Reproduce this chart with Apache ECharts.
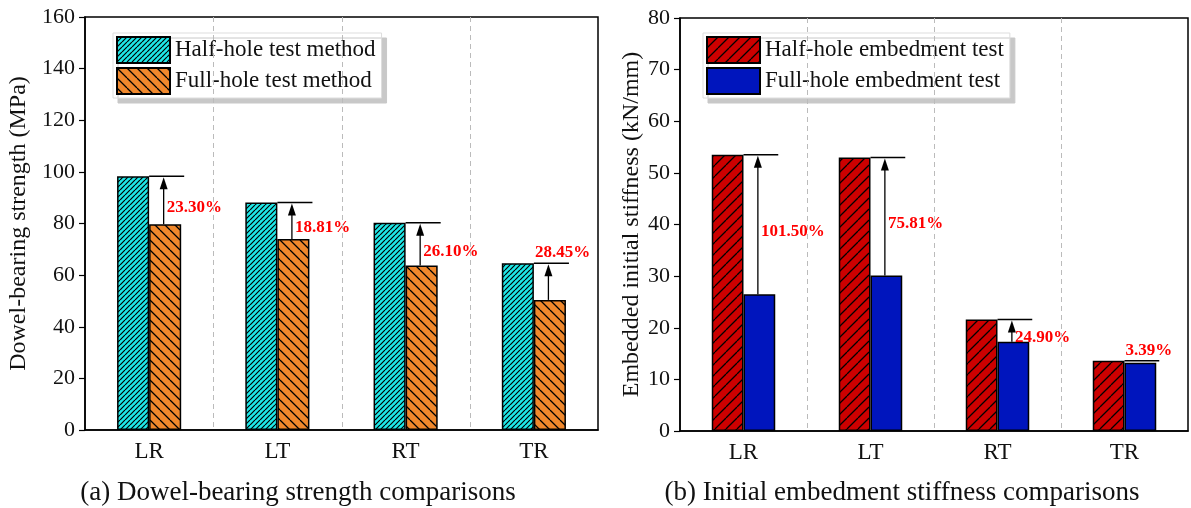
<!DOCTYPE html>
<html><head><meta charset="utf-8">
<script src="https://cdn.jsdelivr.net/npm/echarts@6/dist/echarts.min.js"></script>
<style>html,body{margin:0;padding:0;background:#fff}#c{width:1191px;height:508px}</style>
</head><body><div id="c"></div>
<script>
// ---------- data ----------
const categories = ['LR', 'LT', 'RT', 'TR'];
const strengthHalf = [98.3, 88.1, 80.3, 64.6];
const strengthFull = [79.7, 74.0, 63.7, 50.4];
const strengthPct = ['23.30%', '18.81%', '26.10%', '28.45%'];
const stiffHalf = [53.5, 53.0, 21.6, 13.6];
const stiffFull = [26.5, 30.1, 17.3, 13.2];
const stiffPct = ['101.50%', '75.81%', '24.90%', '3.39%'];
const leftAxis = { min: 0, max: 160, interval: 20 };
const rightAxis = { min: 0, max: 80, interval: 10 };
const seriesNames = ['Half-hole test method', 'Full-hole test method', 'Half-hole embedment test', 'Full-hole embedment test'];
const captions = ['(a) Dowel-bearing strength comparisons', '(b) Initial embedment stiffness comparisons'];
const yNames = ['Dowel-bearing strength (MPa)', 'Embedded initial stiffness (kN/mm)'];

// ---------- style ----------
const labelAbove = [false, false, false, true];
const FONT = '"Liberation Serif", "Times New Roman", serif';

function hatch(bg, s, dir, lw) {
  const c = document.createElement('canvas');
  c.width = s; c.height = s;
  const ctx = c.getContext('2d');
  ctx.fillStyle = bg; ctx.fillRect(0, 0, s, s);
  ctx.strokeStyle = '#000'; ctx.lineWidth = lw;
  ctx.beginPath();
  for (let k = -1; k <= 1; k++) {
    if (dir === '/') { ctx.moveTo(k * s, s); ctx.lineTo(k * s + s, 0); }
    else { ctx.moveTo(k * s, 0); ctx.lineTo(k * s + s, s); }
  }
  ctx.stroke();
  return { image: c, repeat: 'repeat' };
}
const cyanPat = hatch('#1ee8e8', 5, '/', 1.2);
const orangePat = hatch('#f0882c', 10, '\\', 1.3);
const redPat = hatch('#cc0000', 11, '/', 1.3);
const blueSolid = '#0015bd';

function makeAnnot(pcts) {
  return function (params, api) {
    const i = params.dataIndex;
    const pH = api.coord([api.value(0), api.value(1)]);
    const pF = api.coord([api.value(0), api.value(2)]);
    const band = api.size([1, 0])[0];
    const bw = band * 0.25;
    const cx = pH[0], yH = pH[1], yF = pF[1];
    const ax = cx + bw / 2 - 1.5;
    const children = [{
      type: 'line', shape: { x1: cx, y1: yH, x2: cx + bw + 3, y2: yH },
      style: { stroke: '#000', lineWidth: 1.5 }
    }];
    if (yF - yH > 12) {
      children.push({
        type: 'line', shape: { x1: ax, y1: yF, x2: ax, y2: yH + 10 },
        style: { stroke: '#000', lineWidth: 1.3 }
      });
      children.push({
        type: 'polygon', shape: { points: [[ax, yH + 1], [ax - 4, yH + 13], [ax + 4, yH + 13]] },
        style: { fill: '#000' }
      });
    }
    const above = labelAbove[i];
    children.push({
      type: 'text',
      style: {
        text: pcts[i],
        x: above ? cx + 1 : ax + 3,
        y: above ? yH - 2 : (yH + yF) / 2 + 7,
        fill: '#ff0000',
        font: 'bold 17px ' + FONT,
        align: 'left', verticalAlign: above ? 'bottom' : 'middle',
        textAlign: 'left', textVerticalAlign: above ? 'bottom' : 'middle'
      }
    });
    return { type: 'group', children: children };
  };
}

function makeSeparators(ax) {
  return function (params, api) {
    const band = api.size([1, 0])[0];
    const x = api.coord([api.value(0), ax.min])[0] - band / 2;
    const yb = api.coord([0, ax.min])[1];
    const yt = api.coord([0, ax.max])[1];
    return {
      type: 'line', shape: { x1: Math.round(x) + 0.5, y1: yt, x2: Math.round(x) + 0.5, y2: yb },
      style: { stroke: '#bbb', lineWidth: 1, lineDash: [5, 4] }
    };
  };
}

function xAxisCfg(gi) {
  return {
    type: 'category', gridIndex: gi, data: categories,
    axisLine: { show: true, lineStyle: { color: '#000', width: 1.5 } },
    axisTick: { show: false },
    axisLabel: { color: '#111', fontFamily: FONT, fontSize: 23, margin: 10 },
    splitLine: { show: false }
  };
}
function yAxisCfg(gi, ax, name, gap) {
  return {
    type: 'value', gridIndex: gi, min: ax.min, max: ax.max, interval: ax.interval,
    name: name, nameLocation: 'middle', nameGap: gap, nameRotate: 90,
    nameTextStyle: { color: '#111', fontFamily: FONT, fontSize: 24 },
    axisLine: { show: true, lineStyle: { color: '#000', width: 1.5 } },
    axisTick: { show: true, inside: false, length: 6, lineStyle: { color: '#000', width: 1.2 } },
    axisLabel: { color: '#111', fontFamily: FONT, fontSize: 22, margin: 10 },
    splitLine: { show: false }
  };
}
function legendCfg(left, names) {
  return {
    orient: 'vertical', left: left, top: 33, data: names, z: 1,
    icon: 'rect',
    itemWidth: 53, itemHeight: 26, itemGap: 3,
    padding: [3, 6, 3, 3],
    backgroundColor: '#fff', borderColor: '#ddd', borderWidth: 1,
    shadowColor: '#c8c8c8', shadowBlur: 0, shadowOffsetX: 5, shadowOffsetY: 5,
    textStyle: { color: '#111', fontFamily: FONT, fontSize: 23 },
    selectedMode: false
  };
}
function barS(name, data, gi, color) {
  return {
    name: name, type: 'bar', xAxisIndex: gi, yAxisIndex: gi, data: data,
    barWidth: '25%', barGap: '0%',
    itemStyle: { color: color, borderColor: '#000', borderWidth: 1.5 },
    emphasis: { disabled: true }, animation: false
  };
}

const sepData = categories.slice(1).map((c, i) => [i + 1]);

const chart = echarts.init(document.getElementById('c'), null, { renderer: 'canvas' });
chart.setOption({
  animation: false,
  backgroundColor: '#fff',
  grid: [
    { left: 85, top: 17, width: 513, height: 413, show: true, borderColor: '#000', borderWidth: 1.5, backgroundColor: 'transparent' },
    { left: 680, top: 18, width: 508, height: 413, show: true, borderColor: '#000', borderWidth: 1.5, backgroundColor: 'transparent' }
  ],
  xAxis: [xAxisCfg(0), xAxisCfg(1)],
  yAxis: [yAxisCfg(0, leftAxis, yNames[0], 54), yAxisCfg(1, rightAxis, yNames[1], 36)],
  legend: [legendCfg(113, [seriesNames[0], seriesNames[1]]), legendCfg(703, [seriesNames[2], seriesNames[3]])],
  graphic: [
    { type: 'text', x: 298, y: 493, style: { text: captions[0], font: '27px ' + FONT, fill: '#111', textAlign: 'center', textVerticalAlign: 'middle', align: 'center', verticalAlign: 'middle' } },
    { type: 'text', x: 902, y: 493, style: { text: captions[1], font: '27px ' + FONT, fill: '#111', textAlign: 'center', textVerticalAlign: 'middle', align: 'center', verticalAlign: 'middle' } }
  ],
  series: [
    barS(seriesNames[0], strengthHalf, 0, cyanPat),
    barS(seriesNames[1], strengthFull, 0, orangePat),
    barS(seriesNames[2], stiffHalf, 1, redPat),
    barS(seriesNames[3], stiffFull, 1, blueSolid),
    {
      type: 'custom', xAxisIndex: 0, yAxisIndex: 0, z: 5, clip: false,
      data: categories.map((c, i) => [i, strengthHalf[i], strengthFull[i]]),
      renderItem: makeAnnot(strengthPct), silent: true
    },
    {
      type: 'custom', xAxisIndex: 1, yAxisIndex: 1, z: 5, clip: false,
      data: categories.map((c, i) => [i, stiffHalf[i], stiffFull[i]]),
      renderItem: makeAnnot(stiffPct), silent: true
    },
    {
      type: 'custom', xAxisIndex: 0, yAxisIndex: 0, z: 6, clip: false, silent: true,
      data: sepData, renderItem: makeSeparators(leftAxis)
    },
    {
      type: 'custom', xAxisIndex: 1, yAxisIndex: 1, z: 6, clip: false, silent: true,
      data: sepData, renderItem: makeSeparators(rightAxis)
    }
  ]
});
</script>
</body></html>
